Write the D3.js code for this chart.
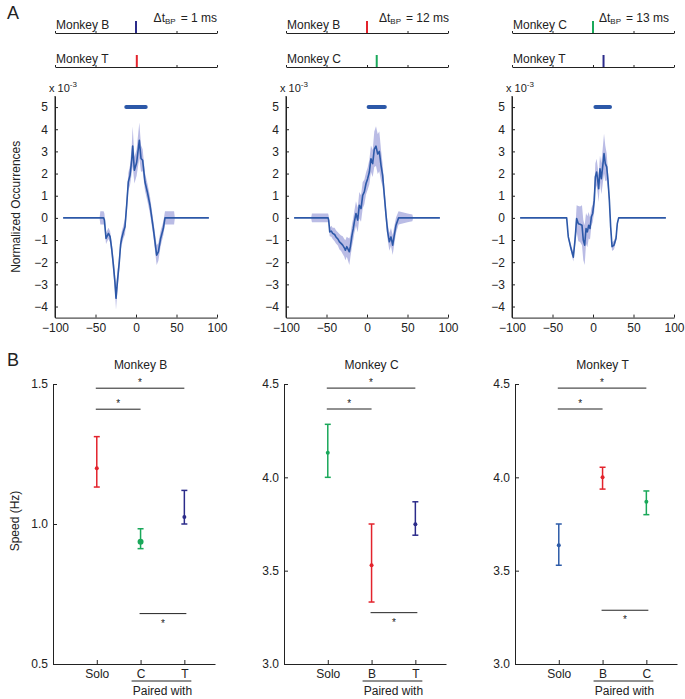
<!DOCTYPE html>
<html>
<head>
<meta charset="utf-8">
<script src="https://cdn.jsdelivr.net/npm/d3@7"></script>
<style>
  body { margin: 0; background: #fff; }
  svg text { font-family: "Liberation Sans", Arial, sans-serif; fill: #222; }
  .ax path, .ax line { stroke: #222; stroke-width: 1; }
  .ax text { font-size: 12px; }
</style>
</head>
<body>
<div id="chart"></div>
<script>
// ---------- data: panel A (cross-correlation curves, ms vs x10^-3) ----------
const xTicksA = [-100, -50, 0, 50, 100];
const yTicksA = [-4, -3, -2, -1, 0, 1, 2, 3, 4, 5];

// [lag ms, mean, half-width of shaded band]
const curveBT = [
  [-90, 0, 0], [-45, 0, 0], [-44, 0, 0.3], [-40, 0, 0.3], [-39, -0.1, 0.3], [-37, -0.93, 0.25],
  [-34, -0.7, 0.25], [-32, -0.85, 0.25], [-30, -1.4, 0.3], [-28, -2.1, 0.35], [-26, -2.9, 0.4],
  [-24.7, -3.63, 0.5], [-23, -2.9, 0.45], [-20.6, -1.98, 0.35], [-19, -1.2, 0.3], [-17.7, -0.93, 0.3],
  [-15.6, -0.63, 0.3], [-13.6, -0.4, 0.35], [-11.5, 0.57, 0.4], [-9.5, 1.62, 0.4], [-7.4, 1.92, 0.45],
  [-5.3, 2.6, 0.6], [-4.1, 3.24, 0.9], [-2, 2.15, 0.6], [0.8, 2.5, 0.6], [4.1, 3.5, 0.8],
  [6.2, 2.68, 0.6], [8.2, 2.6, 0.5], [11.1, 1.62, 0.4], [14, 1.17, 0.4], [17.3, 0.57, 0.4],
  [21.4, -0.48, 0.35], [25.5, -1.68, 0.45], [27.6, -1.53, 0.4], [30.4, -0.93, 0.35], [33.7, -0.48, 0.3],
  [35.8, 0, 0.3], [47, 0, 0.3], [48, 0, 0], [90, 0, 0]
];
const curveBC = [
  [-90, 0, 0], [-69, 0, 0], [-68, 0, 0.2], [-48, 0, 0.2], [-47.3, -0.1, 0.2], [-46, -0.63, 0.2],
  [-44, -0.6, 0.25], [-42.4, -0.7, 0.25], [-40, -0.75, 0.3], [-38.3, -0.86, 0.3], [-36, -0.95, 0.3],
  [-34, -1.08, 0.35], [-32, -1.15, 0.35], [-30, -1.23, 0.4], [-28, -1.35, 0.4], [-26.7, -1.46, 0.45],
  [-25, -1.3, 0.45], [-23.9, -1.38, 0.5], [-21.8, -1.53, 0.6], [-20.6, -1.3, 0.5], [-18.5, -0.78, 0.5],
  [-17, -0.5, 0.5], [-15.6, -0.18, 0.5], [-13.6, 0.2, 0.55], [-11.5, -0.1, 0.55], [-9.5, 0.57, 0.6],
  [-7.4, 0.42, 0.6], [-5.3, 1.02, 0.6], [-3.3, 1.17, 0.55], [-1.2, 1.55, 0.5], [0.8, 1.77, 0.5],
  [2.9, 2.07, 0.55], [4.9, 2.67, 0.6], [7, 2.45, 0.6], [9, 3.1, 0.8], [11.1, 3.24, 0.9],
  [13.2, 2.88, 0.9], [15.2, 3.0, 0.9], [17.3, 2.37, 0.7], [19.3, 1.92, 0.5], [21.4, 1.02, 0.4],
  [23.5, 0.12, 0.35], [25.5, -0.63, 0.35], [27.6, -1.08, 0.4], [29.6, -0.86, 0.4], [31.7, -1.23, 0.45],
  [33.7, -0.78, 0.4], [35.8, -0.33, 0.35], [39, 0, 0.3], [50, 0, 0.2], [56, 0, 0.15], [57, 0, 0], [90, 0, 0]
];
const curveCT = [
  [-90, 0, 0], [-32.5, 0, 0], [-30.5, -0.86, 0.1], [-27.7, -1.3, 0.15], [-24.3, -1.77, 0.2],
  [-22.2, -1.0, 0.3], [-20.2, -0.03, 0.6], [-18.1, -0.26, 0.8], [-16, -0.29, 0.8], [-13.6, -0.33, 0.9],
  [-12, -1.0, 0.9], [-10.3, -1.23, 0.9], [-8.6, -0.48, 0.7], [-7, -0.63, 0.7], [-5.3, -0.33, 0.6],
  [-3.7, -0.48, 0.5], [-2, 0.05, 0.4], [-0.4, 0.2, 0.4], [1.6, 0.8, 0.5], [2.9, 1.85, 0.6],
  [4.5, 2.07, 0.6], [5.8, 1.7, 0.6], [7, 1.32, 0.6], [8.6, 2.22, 0.6], [10.3, 1.77, 0.7],
  [11.9, 2.3, 0.8], [13.6, 2.9, 0.9], [15.2, 2.45, 0.8], [16.9, 2.3, 0.6], [18.5, 1.7, 0.4],
  [20.2, 0.8, 0.3], [21.8, -0.4, 0.2], [23.5, -1.3, 0.2], [25.9, -1.23, 0.2], [28.4, -0.93, 0.15],
  [30, -0.26, 0.1], [31.7, 0, 0], [90, 0, 0]
];
// significant lag window (ms)
const sigWinBT = [-12, 12];
const sigWinBC = [2, 22];
const sigWinCT = [3, 21];

// raster rows: names and event time (ms)
const rasterBT = [['Monkey B', 0], ['Monkey T', 1]];
const rasterBC = [['Monkey B', 0], ['Monkey C', 12]];
const rasterCT = [['Monkey C', 0], ['Monkey T', 13]];
const deltaLabels = ['= 1 ms', '= 12 ms', '= 13 ms'];

// ---------- data: panel B (speed, Hz) ----------
const catsB = ['Solo', 'C', 'T'];
const meanB = [1.199, 0.937, 1.025];
const loB = [1.132, 0.912, 1.0];
const hiB = [1.312, 0.983, 1.12];
const sigB = [[1, 3, 1.485], [1, 2, 1.41], [2, 3, 0.68]];

const catsC = ['Solo', 'B', 'T'];
const meanC = [4.132, 3.529, 3.748];
const loC = [4.0, 3.332, 3.69];
const hiC = [4.284, 3.75, 3.869];
const sigC = [[1, 3, 4.478], [1, 2, 4.366], [2, 3, 3.275]];

const catsT = ['Solo', 'B', 'C'];
const meanT = [3.636, 4.0, 3.869];
const loT = [3.529, 3.937, 3.8];
const hiT = [3.75, 4.054, 3.927];
const sigT = [[1, 3, 4.478], [1, 2, 4.366], [2, 3, 3.288]];

// ---------- styles ----------
const RED = '#e3232c', GREEN = '#1aa85a', NAVY = '#2b2b8a', BLUE = '#2d5ba8';
const LINE = '#2c58a8', BAND = '#aeb0e0';

const W = 685, H = 699;
const svg = d3.select('#chart').append('svg').attr('width', W).attr('height', H);

svg.append('text').attr('x', 7).attr('y', 19).attr('font-size', 18).text('A');
svg.append('text').attr('x', 7).attr('y', 366).attr('font-size', 18).text('B');

// ---------- panel A ----------
const colsA = [
  { left: 55, curve: curveBT, sig: sigWinBT, raster: rasterBT, colors: [NAVY, RED], dEnd: 217 },
  { left: 286, curve: curveBC, sig: sigWinBC, raster: rasterBC, colors: [RED, GREEN], dEnd: 449 },
  { left: 512, curve: curveCT, sig: sigWinCT, raster: rasterCT, colors: [GREEN, NAVY], dEnd: 669 }
];
const wA = 162, topA = 96, botA = 317.6;
const rowY = [33, 67];

colsA.forEach((c, i) => {
  const x = d3.scaleLinear().domain([-100, 100]).range([c.left, c.left + wA]);
  const y = d3.scaleLinear().domain([-4.5, 5.5]).range([botA, topA]);

  // raster rows
  c.raster.forEach((r, k) => {
    const ry = rowY[k];
    const g = svg.append('g').attr('class', 'ax').attr('transform', `translate(0,${ry})`)
      .call(d3.axisBottom(x).tickValues(xTicksA).tickSize(-2).tickSizeOuter(0).tickFormat(''));
    g.select('.domain').attr('stroke', '#333');
    svg.append('text').attr('x', c.left + 1).attr('y', ry - 4).attr('font-size', 12).text(r[0]);
    svg.append('line')
      .attr('x1', x(r[1])).attr('x2', x(r[1]))
      .attr('y1', ry - 12).attr('y2', ry)
      .attr('stroke', c.colors[k]).attr('stroke-width', 2);
  });
  const dt = svg.append('text').attr('x', c.dEnd).attr('y', 22)
    .attr('text-anchor', 'end').attr('font-size', 12);
  dt.append('tspan').text('\u0394t');
  dt.append('tspan').attr('font-size', 8).attr('dy', 2).text('BP');
  dt.append('tspan').attr('dy', -2).attr('dx', 5).text(deltaLabels[i]);

  // axes
  svg.append('g').attr('class', 'ax').attr('transform', `translate(0,${botA})`)
    .call(d3.axisBottom(x).tickValues(xTicksA).tickSize(-3).tickSizeOuter(0).tickPadding(6));
  svg.append('g').attr('class', 'ax').attr('transform', `translate(${c.left},0)`)
    .call(d3.axisLeft(y).tickValues(yTicksA).tickSize(-3).tickSizeOuter(0).tickPadding(7));
  svg.select(null);
  // y-axis extends to top
  svg.append('line').attr('x1', c.left).attr('x2', c.left).attr('y1', topA).attr('y2', botA)
    .attr('stroke', '#222');

  const ex = svg.append('text').attr('x', c.left - 6).attr('y', 92).attr('font-size', 11);
  ex.append('tspan').text('x 10');
  ex.append('tspan').attr('font-size', 8).attr('dy', -5).text('-3');

  // shaded band and mean line
  const area = d3.area().x(d => x(d[0])).y0(d => y(d[1] - d[2])).y1(d => y(d[1] + d[2]));
  svg.append('path').datum(c.curve).attr('d', area).attr('fill', BAND).attr('opacity', 0.85);
  const line = d3.line().x(d => x(d[0])).y(d => y(d[1]));
  svg.append('path').datum(c.curve).attr('d', line)
    .attr('fill', 'none').attr('stroke', LINE).attr('stroke-width', 1.6).attr('stroke-linejoin', 'round');

  // significance window bar
  svg.append('line')
    .attr('x1', x(c.sig[0])).attr('x2', x(c.sig[1]))
    .attr('y1', y(5)).attr('y2', y(5))
    .attr('stroke', LINE).attr('stroke-width', 4).attr('stroke-linecap', 'round');
});

svg.append('text')
  .attr('transform', `translate(20,${(topA + botA) / 2}) rotate(-90)`)
  .attr('text-anchor', 'middle').attr('font-size', 12).text('Normalized Occurrences');

// ---------- panel B ----------
const colsB = [
  { left: 53, title: 'Monkey B', cats: catsB, mean: meanB, lo: loB, hi: hiB, sig: sigB,
    dom: [0.5, 1.5], ticks: [0.5, 1.0, 1.5], colors: [RED, GREEN, NAVY], r: [2, 3, 2] },
  { left: 284, title: 'Monkey C', cats: catsC, mean: meanC, lo: loC, hi: hiC, sig: sigC,
    dom: [3, 4.5], ticks: [3.0, 3.5, 4.0, 4.5], colors: [GREEN, RED, NAVY], r: [2, 2, 2] },
  { left: 515, title: 'Monkey T', cats: catsT, mean: meanT, lo: loT, hi: hiT, sig: sigT,
    dom: [3, 4.5], ticks: [3.0, 3.5, 4.0, 4.5], colors: [BLUE, RED, GREEN], r: [2, 2, 2] }
];
const wB = 162, topB = 384, botB = 664;

colsB.forEach(c => {
  const x = d3.scaleLinear().domain([0, 3.7]).range([c.left, c.left + wB]);
  const y = d3.scaleLinear().domain(c.dom).range([botB, topB]);

  svg.append('g').attr('class', 'ax').attr('transform', `translate(0,${botB})`)
    .call(d3.axisBottom(x).tickValues([1, 2, 3]).tickSize(-4).tickSizeOuter(0).tickPadding(5)
      .tickFormat((d, i) => c.cats[i]));
  svg.append('g').attr('class', 'ax').attr('transform', `translate(${c.left},0)`)
    .call(d3.axisLeft(y).tickValues(c.ticks).tickSize(-4).tickSizeOuter(0).tickPadding(5)
      .tickFormat(d3.format('.1f')));

  svg.append('text').attr('x', x(2)).attr('y', 369).attr('text-anchor', 'middle')
    .attr('font-size', 12).text(c.title);

  // "Paired with"
  svg.append('line').attr('x1', x(2) - 9).attr('x2', x(3) + 7).attr('y1', 681).attr('y2', 681)
    .attr('stroke', '#222');
  svg.append('text').attr('x', (x(2) + x(3)) / 2).attr('y', 695).attr('text-anchor', 'middle')
    .attr('font-size', 12).text('Paired with');

  // error bars
  c.mean.forEach((m, i) => {
    const cx = x(i + 1), col = c.colors[i];
    const g = svg.append('g').attr('stroke', col).attr('stroke-width', 1.5);
    g.append('line').attr('x1', cx).attr('x2', cx).attr('y1', y(c.lo[i])).attr('y2', y(c.hi[i]));
    g.append('line').attr('x1', cx - 3).attr('x2', cx + 3).attr('y1', y(c.lo[i])).attr('y2', y(c.lo[i]));
    g.append('line').attr('x1', cx - 3).attr('x2', cx + 3).attr('y1', y(c.hi[i])).attr('y2', y(c.hi[i]));
    svg.append('circle').attr('cx', cx).attr('cy', y(m)).attr('r', c.r[i]).attr('fill', col);
  });

  // significance brackets
  c.sig.forEach((s, k) => {
    const yy = y(s[2]);
    const x1 = x(s[0]) - 1, x2 = x(s[1]) + (k === 2 ? 2 : 0);
    svg.append('line').attr('x1', x1).attr('x2', x2).attr('y1', yy).attr('y2', yy)
      .attr('stroke', '#222').attr('stroke-width', 1);
    svg.append('text').attr('x', (x1 + x2) / 2).attr('y', k === 2 ? yy + 13 : yy - 2)
      .attr('text-anchor', 'middle').attr('font-size', 10).text('*');
  });
});

svg.append('text')
  .attr('transform', `translate(19,${(topB + botB) / 2 - 3}) rotate(-90)`)
  .attr('text-anchor', 'middle').attr('font-size', 12).text('Speed (Hz)');
</script>
</body>
</html>
